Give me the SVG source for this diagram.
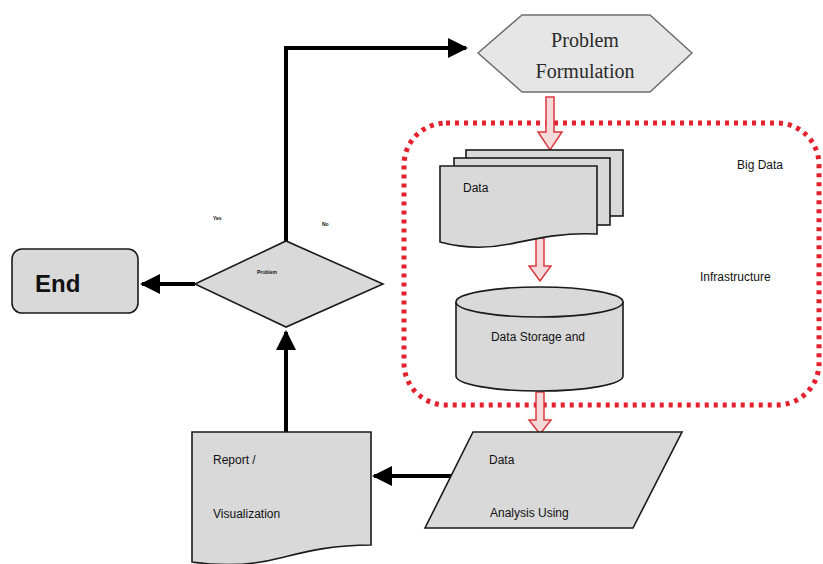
<svg xmlns="http://www.w3.org/2000/svg" width="823" height="564" viewBox="0 0 823 564">
<style>
.shape{fill:#d9d9d9;stroke:#1a1a1a;stroke-width:1.6}
.lbl{font-family:"Liberation Sans",Arial,sans-serif;font-size:12px;fill:#111}
.tiny{font-family:"Liberation Sans",Arial,sans-serif;font-size:5px;font-weight:bold;fill:#111}
.conn{stroke:#000;stroke-width:4;fill:none}
.red{fill:#f5dada;stroke:#d9383f;stroke-width:1.5}
</style>
<defs>
<marker id="ah" viewBox="0 0 10 10" refX="9" refY="5" markerWidth="5" markerHeight="5" orient="auto" markerUnits="strokeWidth">
<path d="M0,0 L10,5 L0,10 z" fill="#000"/>
</marker>
</defs>
<rect width="823" height="564" fill="#fff"/>

<g id="bigdata">
<rect x="404" y="123" width="415" height="282" rx="42" ry="42" fill="none" stroke="#e3202c" stroke-width="5" stroke-dasharray="4 5"/>
<text class="lbl" x="737" y="169">Big Data</text>
<text class="lbl" x="700" y="281">Infrastructure</text>
</g>

<g id="connectors">
<path class="conn" d="M286,241 V48 H466" marker-end="url(#ah)"/>
<path class="conn" d="M195,284 H142" marker-end="url(#ah)"/>
<path class="conn" d="M286,432 V332" marker-end="url(#ah)"/>
<path class="conn" d="M455,476 H374" marker-end="url(#ah)"/>
<path class="red" d="M546,97 H554 V132 H562 L550,150 L538,132 H546 Z"/>
<path class="red" d="M536,238 H544 V266 H551 L540,281 L529,266 H536 Z"/>
<path class="red" d="M536,392 H544 V420 H551 L540,434 L529,420 H536 Z"/>
<text class="tiny" x="213" y="220">Yes</text>
<text class="tiny" x="322" y="226">No</text>
</g>

<g id="problem">
<path d="M478,53 L522,15 H650 L692,53 L650,92 H522 Z" fill="#e6e6e6" stroke="#6e6e6e" stroke-width="1.5"/>
<text x="585" y="47" text-anchor="middle" font-family="Liberation Serif,Times New Roman,serif" font-size="20" fill="#2a2a2a">Problem</text>
<text x="585" y="78" text-anchor="middle" font-family="Liberation Serif,Times New Roman,serif" font-size="20" fill="#2a2a2a">Formulation</text>
</g>

<g id="data">
<rect class="shape" x="466" y="150" width="157" height="66"/>
<rect class="shape" x="454" y="158" width="156" height="67"/>
<path class="shape" d="M440,166 H597 V234 C560,232 530,240 510,244 C485,249 462,248 440,242 Z"/>
<text class="lbl" x="463" y="192">Data</text>
</g>

<g id="storage">
<path class="shape" d="M456,302 V376 A83.5,15 0 0 0 623,376 V302"/>
<ellipse class="shape" cx="539.5" cy="302" rx="83.5" ry="15"/>
<text class="lbl" x="538" y="341" text-anchor="middle">Data Storage and</text>
</g>

<g id="analysis">
<path class="shape" d="M473,432 H682 L633,528 H425 Z"/>
<text class="lbl" x="489" y="464">Data</text>
<text class="lbl" x="490" y="517">Analysis Using</text>
</g>

<g id="report">
<path class="shape" d="M192,432 H371 V545 C330,545 305,552 280,558 C250,566 220,566 192,562 Z"/>
<text class="lbl" x="213" y="464">Report /</text>
<text class="lbl" x="213" y="518">Visualization</text>
</g>

<g id="decision">
<path class="shape" d="M195,284 L286,241 L383,284 L286,327 Z"/>
<text class="tiny" x="267" y="274" text-anchor="middle">Problem</text>
</g>

<g id="end">
<rect class="shape" x="12" y="249" width="126" height="64" rx="10" ry="10"/>
<text x="35" y="292" font-family="Liberation Sans,Arial,sans-serif" font-size="24" font-weight="bold" fill="#111">End</text>
</g>
</svg>
